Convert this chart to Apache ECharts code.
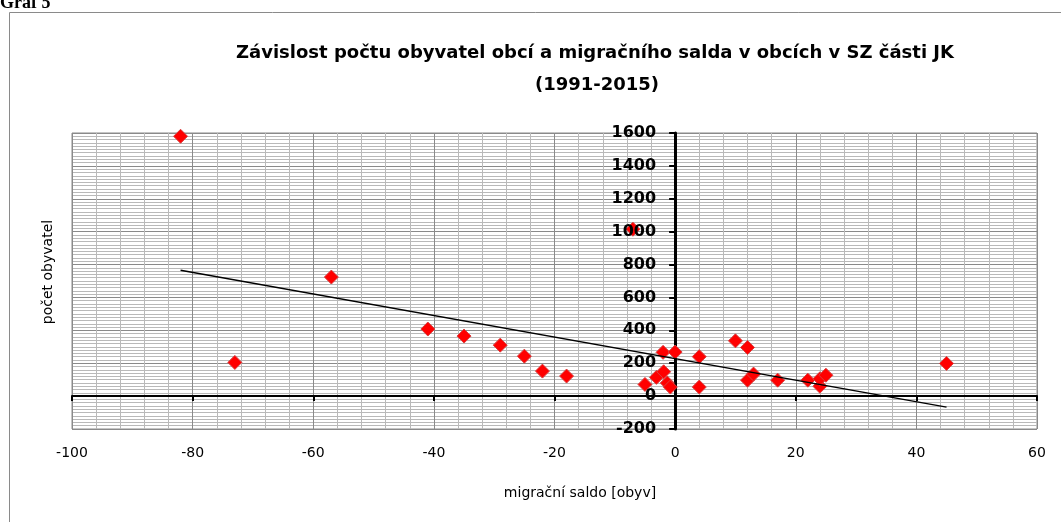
<!DOCTYPE html>
<html lang="cs">
<head>
<meta charset="UTF-8">
<title>Graf 5</title>
<script src="https://cdn.jsdelivr.net/npm/echarts@6/dist/echarts.min.js"></script>
</head>
<body style="margin:0">
<div id="main" style="width:1061px;height:522px"></div>
<script type="text/javascript">
  // migracni saldo (x) a pocet obyvatel (y) obci
  var saldo = [-82, -73, -57, -41, -35, -29, -25, -22, -18, -7, -5, -3.1, -2, -1.9, -1.3, -0.8, 0, 4, 4, 10, 12, 12, 13, 17, 22, 24, 24, 25, 45];
  var obyvatel = [1580, 205, 724, 408, 365, 310, 243, 152, 122, 1015, 71, 114, 266, 148, 80, 55, 268, 240, 55, 336, 296, 97, 134, 97, 97, 60, 105, 127, 199];
  // spojnice trendu (konce cary)
  var trendX = [-82, 45];
  var trendY = [766, -67];
  var xTicks = {min: -100, max: 60, step: 20};
  var yTicks = {min: -200, max: 1600, step: 200};

  var points = saldo.map(function (x, i) { return [x, obyvatel[i]]; });
  var trend = trendX.map(function (x, i) { return [x, trendY[i]]; });

  var W = 1061, gridL = 72, gridR = 24;
  // osa y lezi v x = 0 i se svymi popisky
  var yOffset = -(W - gridL - gridR) * (0 - xTicks.min) / (xTicks.max - xTicks.min);

  var myChart = echarts.init(document.getElementById('main'));
  var option = {
    animation: false,
    backgroundColor: '#fff',
    graphic: [
      {type: 'rect', shape: {x: 9.5, y: 12.5, width: 1100, height: 600}, style: {fill: null, stroke: '#8a8a8a', lineWidth: 1}, z: -10},
      {type: 'text', x: 0, y: 12, style: {text: 'Graf 5', font: 'bold 18px "Liberation Serif"', fill: '#000', verticalAlign: 'bottom'}},
      {type: 'text', x: 595, y: 53, style: {text: 'Závislost počtu obyvatel obcí a migračního salda v obcích v SZ části JK', font: 'bold 18px "DejaVu Sans"', fill: '#000', align: 'center', verticalAlign: 'middle'}},
      {type: 'text', x: 597, y: 85, style: {text: '(1991-2015)', font: 'bold 18px "DejaVu Sans"', fill: '#000', align: 'center', verticalAlign: 'middle'}},
      {type: 'text', x: 580, y: 493, style: {text: 'migrační saldo [obyv]', font: '14px "DejaVu Sans"', fill: '#000', align: 'center', verticalAlign: 'middle'}},
      {type: 'text', x: 48, y: 272, rotation: Math.PI / 2, style: {text: 'počet obyvatel', font: '14px "DejaVu Sans"', fill: '#000', align: 'center', verticalAlign: 'middle'}}
    ],
    grid: {left: gridL, right: gridR, top: 133, bottom: 93, show: true, borderColor: '#8a8a8a', borderWidth: 1},
    xAxis: [
      {
        type: 'value', min: xTicks.min, max: xTicks.max, interval: xTicks.step, position: 'bottom',
        axisLine: {onZero: true, lineStyle: {color: '#000', width: 2}},
        axisTick: {show: true, length: 5, lineStyle: {color: '#000', width: 2}},
        axisLabel: {show: false},
        splitLine: {show: true, lineStyle: {color: '#8a8a8a', width: 1}},
        minorTick: {show: false, splitNumber: 5},
        minorSplitLine: {show: true, lineStyle: {color: '#b9b9b9', width: 1}}
      },
      {
        type: 'value', min: xTicks.min, max: xTicks.max, interval: xTicks.step, position: 'bottom',
        axisLine: {show: false, onZero: false},
        axisTick: {show: false},
        splitLine: {show: false},
        axisLabel: {margin: 17, fontFamily: 'DejaVu Sans', fontSize: 14, color: '#000'}
      }
    ],
    yAxis: [
      {
        // mrizka, cara osy a znacky
        type: 'value', min: yTicks.min, max: yTicks.max, interval: yTicks.step, position: 'left', offset: yOffset,
        axisLine: {show: true, onZero: false, lineStyle: {color: '#000', width: 3}},
        axisTick: {show: true, length: 6, lineStyle: {color: '#000', width: 2}},
        axisLabel: {show: false},
        splitLine: {show: true, lineStyle: {color: '#8a8a8a', width: 1}},
        minorTick: {show: false, splitNumber: 10},
        minorSplitLine: {show: true, lineStyle: {color: '#b9b9b9', width: 1}}
      },
      {
        // popisky nad body
        type: 'value', min: yTicks.min, max: yTicks.max, interval: yTicks.step, position: 'left', offset: yOffset, z: 5,
        axisLine: {show: false, onZero: false},
        axisTick: {show: false}, splitLine: {show: false},
        axisLabel: {margin: 19, fontFamily: 'DejaVu Sans', fontSize: 16, fontWeight: 'bold', color: '#000',
          formatter: function (v) { return String(v); }}
      }
    ],
    series: [
      {
        type: 'scatter', xAxisIndex: 0, yAxisIndex: 0, data: points,
        symbol: 'diamond', symbolSize: 14, z: 2,
        itemStyle: {color: '#ff0000', borderColor: '#d84040', borderWidth: 1, opacity: 1}
      },
      {
        type: 'line', xAxisIndex: 0, yAxisIndex: 0, data: trend,
        showSymbol: false, symbol: 'none', z: 4,
        lineStyle: {color: '#000', width: 1.5}
      }
    ]
  };
  myChart.setOption(option);
</script>
</body>
</html>
